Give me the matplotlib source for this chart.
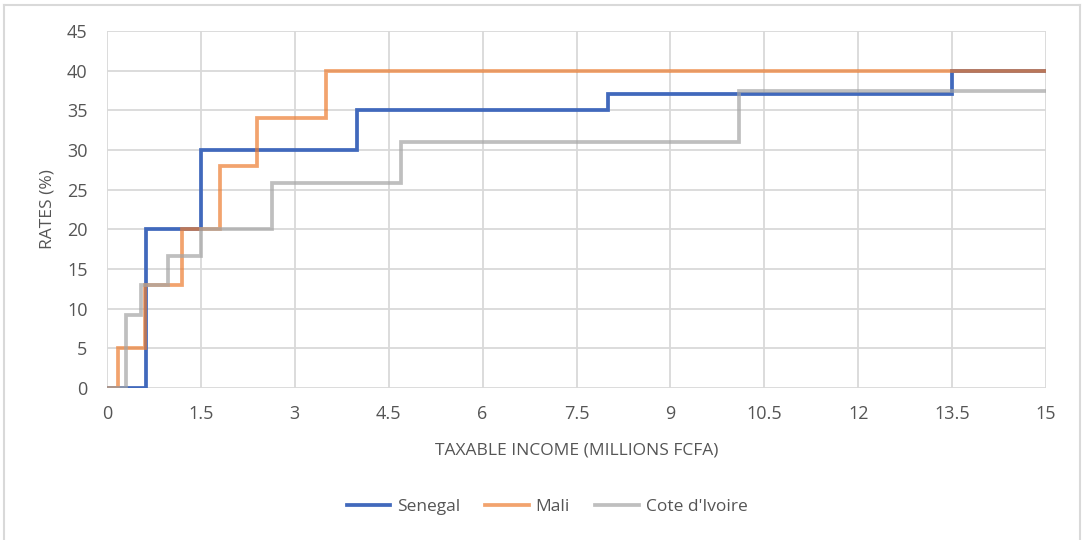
import matplotlib
matplotlib.use("Agg")
import matplotlib.pyplot as plt
from matplotlib.lines import Line2D

plt.rcParams['font.family'] = ['Open Sans', 'DejaVu Sans']

# Thresholds (millions FCFA) and rates (%)
senegal_x = [0, 0.63, 1.5, 4.0, 8.0, 13.5, 15]
senegal_y = [0, 20, 30, 35, 37, 40, 40]

mali_x = [0, 0.175, 0.6, 1.2, 1.8, 2.4, 3.5, 15]
mali_y = [0, 5, 13, 20, 28, 34, 40, 40]

civ_x = [0, 0.3, 0.55, 0.98, 1.5, 2.64, 4.7, 10.1, 15]
civ_y = [0, 9.2, 13, 16.6, 20, 25.9, 31, 37.4, 37.4]

series_names = ["Senegal", "Mali", "Cote d'Ivoire"]
colors = ["#4169BC", "#ED7D31", "#A5A5A5"]
alphas = [1.0, 0.7, 0.7]

xticks = [0, 1.5, 3, 4.5, 6, 7.5, 9, 10.5, 12, 13.5, 15]
xtick_labels = ["0", "1.5", "3", "4.5", "6", "7.5", "9", "10.5", "12", "13.5", "15"]
yticks = [0, 5, 10, 15, 20, 25, 30, 35, 40, 45]

W, H = 1082, 540
fig = plt.figure(figsize=(W / 100, H / 100), dpi=100)
ax = fig.add_axes([107 / W, 1 - 388 / H, (1046 - 107) / W, (388 - 31) / H])

data = [(senegal_x, senegal_y), (mali_x, mali_y), (civ_x, civ_y)]
for (xs, ys), c, a, name in zip(data, colors, alphas, series_names):
    ax.step(xs, ys, where='post', color=c, lw=2.7, alpha=a, label=name,
            solid_joinstyle='miter', zorder=3)

ax.set_xlim(0, 15)
ax.set_ylim(0, 45)
ax.set_xticks(xticks)
ax.set_xticklabels(xtick_labels)
ax.set_yticks(yticks)
ax.grid(True, color="#D9D9D9", lw=1.3, zorder=0)
ax.set_axisbelow(True)
for s in ax.spines.values():
    s.set_visible(False)
ax.tick_params(length=0, labelsize=13, colors="#555555")
ax.tick_params(axis='x', pad=12)
ax.tick_params(axis='y', pad=14)

ax.set_xlabel("TAXABLE INCOME (MILLIONS FCFA)", fontsize=12.5, color="#555555", labelpad=14)
ax.set_ylabel("RATES (%)", fontsize=12.5, color="#555555", labelpad=8)

handles = [Line2D([0], [0], color=c, lw=2.7, alpha=a) for c, a in zip(colors, alphas)]
fig.legend(handles, series_names, loc='center', bbox_to_anchor=(547 / W, 1 - 507 / H),
           ncol=3, frameon=False, fontsize=12.5, handlelength=2.5, columnspacing=1.45,
           handletextpad=0.4, labelcolor="#555555")

# chart area border (left, top, right)
bc = "#D9D9D9"
fig.add_artist(Line2D([3.5 / W, 3.5 / W], [0, 1 - 5 / H], color=bc, lw=1.5, transform=fig.transFigure))
fig.add_artist(Line2D([3.5 / W, 1080 / W], [1 - 5 / H, 1 - 5 / H], color=bc, lw=1.5, transform=fig.transFigure))
fig.add_artist(Line2D([1080 / W, 1080 / W], [0, 1 - 5 / H], color=bc, lw=1.5, transform=fig.transFigure))

fig.savefig("out.png", dpi=100)
